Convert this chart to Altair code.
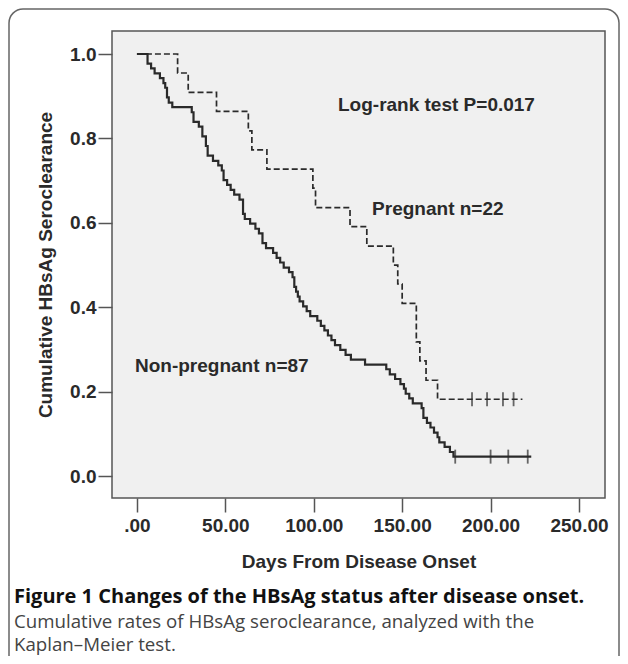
import altair as alt
import pandas as pd

# Non-pregnant (n=87): step times (days) and cumulative value after each step
np_days = [0, 6, 8, 10, 13, 15, 16, 17, 18, 20, 31, 32, 35, 37, 39, 40, 43, 46, 48, 49, 51, 53,
           55, 58, 60, 61, 64, 67, 69, 71, 73, 77, 79, 81, 83, 86, 88, 89, 90, 91, 92, 94,
           96, 98, 102, 104, 106, 108, 110, 112, 115, 118, 121, 129, 141, 143, 146, 149, 151,
           152, 154, 156, 161, 162, 164, 166, 168, 170, 171, 174, 177, 179, 223]
np_surv = [1.0, 0.977, 0.966, 0.954, 0.943, 0.931, 0.920, 0.897, 0.885, 0.874, 0.862, 0.839,
           0.828, 0.805, 0.782, 0.759, 0.747, 0.736, 0.724, 0.701, 0.690, 0.678, 0.667, 0.655,
           0.621, 0.609, 0.598, 0.586, 0.575, 0.552, 0.540, 0.529, 0.517, 0.506, 0.494, 0.483,
           0.471, 0.448, 0.437, 0.425, 0.414, 0.402, 0.391, 0.379, 0.368, 0.356, 0.345, 0.333,
           0.322, 0.310, 0.299, 0.287, 0.276, 0.264, 0.253, 0.241, 0.230, 0.218, 0.207, 0.195,
           0.184, 0.172, 0.161, 0.138, 0.126, 0.115, 0.103, 0.092, 0.080, 0.069, 0.057, 0.046,
           0.046]
np_cens_days = [180, 200, 210, 221]
np_cens_surv = [0.046, 0.046, 0.046, 0.046]

# Pregnant (n=22)
pg_days = [0, 23, 29, 45, 63, 65, 73.5, 99.5, 101, 120.5, 130, 145, 147.5, 150, 158, 160,
           163.5, 170, 218]
pg_surv = [1.0, 0.955, 0.909, 0.864, 0.818, 0.773, 0.727, 0.682, 0.636, 0.591, 0.545, 0.500,
           0.455, 0.409, 0.318, 0.273, 0.227, 0.182, 0.182]
pg_cens_days = [189.5, 198, 207, 213]
pg_cens_surv = [0.182, 0.182, 0.182, 0.182]

# Annotations inside the plot
ann_text = ["Log-rank test P=0.017", "Pregnant n=22", "Non-pregnant n=87"]
ann_day = [113.7, 133, -1.1]
ann_surv = [0.879, 0.633, 0.26]

x_ticks = [0, 50, 100, 150, 200, 250]
y_ticks = [0.0, 0.2, 0.4, 0.6, 0.8, 1.0]

caption_bold = "Figure 1 Changes of the HBsAg status after disease onset."
caption_lines = ["Cumulative rates of HBsAg seroclearance, analyzed with the",
                 "Kaplan\u2013Meier test."]

FONT = "Liberation Sans"
INK = "#2a2a2a"

df_np = pd.DataFrame({"day": np_days, "surv": np_surv})
df_pg = pd.DataFrame({"day": pg_days, "surv": pg_surv})
df_np_c = pd.DataFrame({"day": np_cens_days, "surv": np_cens_surv})
df_pg_c = pd.DataFrame({"day": pg_cens_days, "surv": pg_cens_surv})
df_ann = pd.DataFrame({"day": ann_day, "surv": ann_surv, "label": ann_text})

xs = alt.Scale(domain=[-14.1, 264.7], nice=False, zero=False)
ys = alt.Scale(domain=[-0.052, 1.0545], nice=False, zero=False)

x_axis = alt.Axis(values=x_ticks, title="Days From Disease Onset",
                  labelExpr="datum.value == 0 ? '.00' : format(datum.value, '.2f')",
                  titleY=69, titleBaseline="alphabetic", labelPadding=4)
y_axis = alt.Axis(values=y_ticks, format=".1f", title="Cumulative HBsAg Seroclearance",
                  titleX=-67, titleBaseline="middle", labelPadding=2)

X = alt.X("day:Q", scale=xs, axis=x_axis)
Y = alt.Y("surv:Q", scale=ys, axis=y_axis)
Xn = alt.X("day:Q", scale=xs)
Yn = alt.Y("surv:Q", scale=ys)

line_np = alt.Chart(df_np).mark_line(interpolate="step-after", color=INK, strokeWidth=2.2).encode(x=X, y=Y)
line_pg = alt.Chart(df_pg).mark_line(interpolate="step-after", color=INK, strokeWidth=1.7,
                                     strokeDash=[6, 3]).encode(x=Xn, y=Yn)
cens_np = alt.Chart(df_np_c).mark_tick(orient="vertical", color=INK, size=14, thickness=1.8).encode(x=Xn, y=Yn)
cens_pg = alt.Chart(df_pg_c).mark_tick(orient="vertical", color=INK, size=14, thickness=1.8).encode(x=Xn, y=Yn)

ann = alt.Chart(df_ann).mark_text(align="left", baseline="middle", font=FONT, fontSize=19,
                                  fontWeight="bold", color=INK).encode(x=Xn, y=Yn, text="label:N")

one = pd.DataFrame({"a": [0]})
cap1 = alt.Chart(one).mark_text(align="left", baseline="alphabetic", font="Open Sans", fontSize=20,
                                fontWeight="bold", color="#111").encode(
    x=alt.value(-98), y=alt.value(572), text=alt.value(caption_bold))
cap2 = alt.Chart(one).mark_text(align="left", baseline="alphabetic", font="Open Sans", fontSize=18.7,
                                color="#444").encode(
    x=alt.value(-98), y=alt.value(597), text=alt.value(caption_lines[0]))
cap3 = alt.Chart(one).mark_text(align="left", baseline="alphabetic", font="Open Sans", fontSize=18.7,
                                color="#444").encode(
    x=alt.value(-98), y=alt.value(620), text=alt.value(caption_lines[1]))

frame = alt.Chart(one).mark_rect(fillOpacity=0, stroke="#666", strokeWidth=1.5, cornerRadius=14).encode(
    x=alt.value(-103), x2=alt.value(507), y=alt.value(-22), y2=alt.value(680))

chart = alt.layer(line_np, line_pg, cens_np, cens_pg, ann, cap1, cap2, cap3, frame).properties(
    width=493, height=467,
    autosize=alt.AutoSizeParams(type="none"),
    padding={"left": 104, "top": 23, "right": 15, "bottom": 158},
    background="white",
).configure_view(
    fill="#f0f0f0", stroke="#555", strokeWidth=1.5
).configure_axis(
    grid=False, domain=False, ticks=True, tickSize=14, tickWidth=1.5, tickColor="#555",
    labelFont=FONT, labelFontSize=19, labelFontWeight="bold", labelColor=INK,
    titleFont=FONT, titleFontSize=19, titleFontWeight="bold", titleColor=INK,
)

chart.save("out.html", embed_options={"renderer": "svg", "actions": False})
